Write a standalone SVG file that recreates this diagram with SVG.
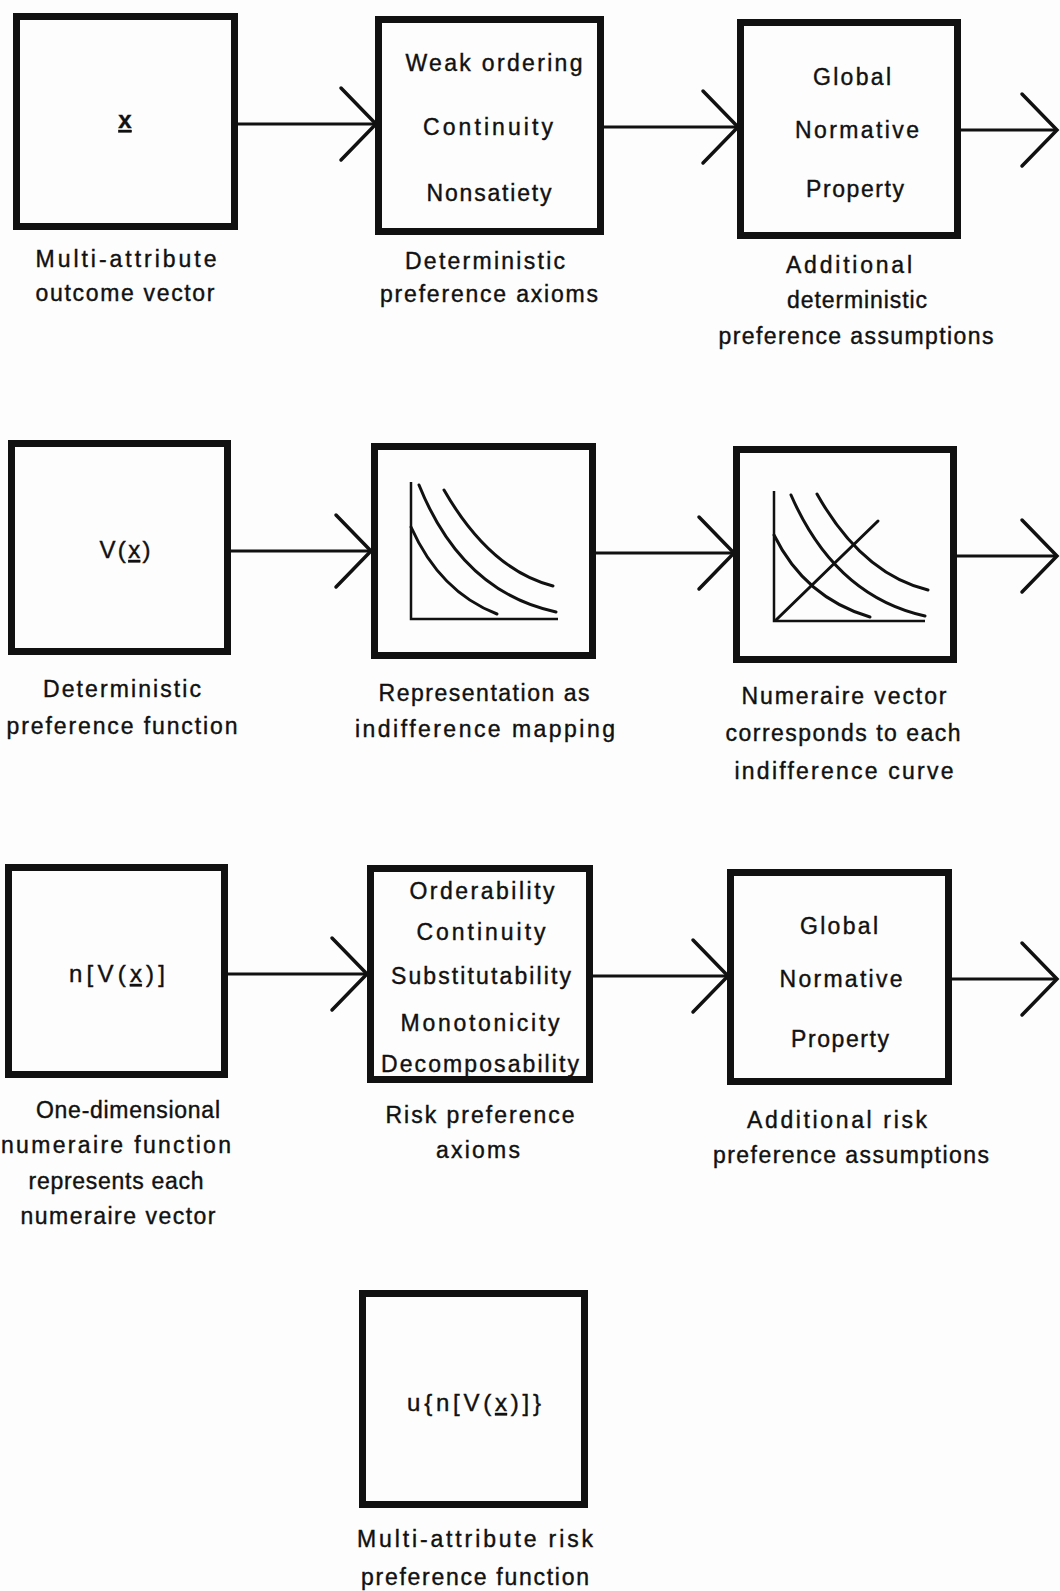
<svg xmlns="http://www.w3.org/2000/svg" width="1060" height="1591" viewBox="0 0 1060 1591">
  <style>
    .box { fill: none; stroke: #111; stroke-width: 7; }
    .wire { fill: none; stroke: #111; stroke-width: 3; }
    .plot { fill: none; stroke: #111; stroke-width: 3; stroke-linecap: round; }
    .axis { fill: none; stroke: #111; stroke-width: 2.5; }
    text { font-family: "Liberation Sans", "DejaVu Sans", sans-serif; font-size: 23px; fill: #111; stroke: #111; stroke-width: 0.4; text-anchor: middle; }
    .sym { font-size: 24px; }
  </style>
  <defs>
    <marker id="chevron" markerUnits="userSpaceOnUse" markerWidth="44" markerHeight="84" viewBox="-40 -40 44 80" refX="0" refY="0" orient="auto">
      <path d="M-35,-36 L0,0 L-35,36" fill="none" stroke="#111" stroke-width="3.5" stroke-linecap="round" stroke-linejoin="miter"/>
    </marker>
  </defs>
  <rect width="1060" height="1591" fill="#fdfdfd"/>

  <!-- connectors -->
  <g id="connectors">
    <line class="wire" x1="238" y1="124" x2="376" y2="124" marker-end="url(#chevron)"/>
    <line class="wire" x1="604" y1="127" x2="738" y2="127" marker-end="url(#chevron)"/>
    <line class="wire" x1="961" y1="130" x2="1057" y2="130" marker-end="url(#chevron)"/>
    <line class="wire" x1="231" y1="551" x2="371" y2="551" marker-end="url(#chevron)"/>
    <line class="wire" x1="596" y1="553" x2="734" y2="553" marker-end="url(#chevron)"/>
    <line class="wire" x1="957" y1="556" x2="1057" y2="556" marker-end="url(#chevron)"/>
    <line class="wire" x1="228" y1="974" x2="367" y2="974" marker-end="url(#chevron)"/>
    <line class="wire" x1="593" y1="976" x2="728" y2="976" marker-end="url(#chevron)"/>
    <line class="wire" x1="952" y1="979" x2="1057" y2="979" marker-end="url(#chevron)"/>
  </g>

  <!-- row 1 -->
  <g id="outcome-vector">
    <rect class="box" x="16.5" y="16.5" width="218" height="210"/>
    <text class="sym" x="125" y="128" font-weight="bold" text-decoration="underline">x</text>
    <text x="126" y="267" textLength="181" lengthAdjust="spacing">Multi-attribute</text>
    <text x="125" y="301" textLength="179" lengthAdjust="spacing">outcome vector</text>
  </g>
  <g id="deterministic-axioms">
    <rect class="box" x="378.5" y="19.5" width="222" height="212"/>
    <text x="494" y="71" textLength="177" lengthAdjust="spacing">Weak ordering</text>
    <text x="488" y="135" textLength="130" lengthAdjust="spacing">Continuity</text>
    <text x="489" y="201" textLength="125" lengthAdjust="spacing">Nonsatiety</text>
    <text x="485" y="269" textLength="160" lengthAdjust="spacing">Deterministic</text>
    <text x="489" y="302" textLength="218" lengthAdjust="spacing">preference axioms</text>
  </g>
  <g id="deterministic-assumptions">
    <rect class="box" x="740.5" y="22.5" width="217" height="213"/>
    <text x="852" y="85" textLength="78" lengthAdjust="spacing">Global</text>
    <text x="857" y="138" textLength="124" lengthAdjust="spacing">Normative</text>
    <text x="855" y="197" textLength="98" lengthAdjust="spacing">Property</text>
    <text x="849" y="273" textLength="126" lengthAdjust="spacing">Additional</text>
    <text x="857" y="308" textLength="140" lengthAdjust="spacing">deterministic</text>
    <text x="856" y="344" textLength="275" lengthAdjust="spacing">preference assumptions</text>
  </g>

  <!-- row 2 -->
  <g id="preference-function">
    <rect class="box" x="11.5" y="443.5" width="216" height="208"/>
    <text class="sym" x="125" y="558" textLength="51" lengthAdjust="spacing">V(<tspan text-decoration="underline">x</tspan>)</text>
    <text x="122" y="697" textLength="158" lengthAdjust="spacing">Deterministic</text>
    <text x="122" y="734" textLength="231" lengthAdjust="spacing">preference function</text>
  </g>
  <g id="indifference-mapping">
    <rect class="box" x="374.5" y="446.5" width="218" height="209"/>
    <path class="axis" d="M411,482 L411,619 L558,619"/>
    <path class="plot" d="M411,527 Q440,592 497,614"/>
    <path class="plot" d="M419,485 Q462,592 556,612"/>
    <path class="plot" d="M444,490 Q490,570 553,586"/>
    <text x="484" y="701" textLength="211" lengthAdjust="spacing">Representation as</text>
    <text x="485" y="737" textLength="260" lengthAdjust="spacing">indifference mapping</text>
  </g>
  <g id="numeraire-vector">
    <rect class="box" x="736.5" y="449.5" width="217" height="210"/>
    <path class="axis" d="M774,491 L774,621 L925,621"/>
    <path class="plot" d="M774,535 Q805,598 870,617"/>
    <path class="plot" d="M791,495 Q835,596 925,616"/>
    <path class="plot" d="M817,494 Q862,574 928,590"/>
    <line class="plot" x1="776" y1="620" x2="878" y2="521"/>
    <text x="844" y="704" textLength="205" lengthAdjust="spacing">Numeraire vector</text>
    <text x="843" y="741" textLength="235" lengthAdjust="spacing">corresponds to each</text>
    <text x="844" y="779" textLength="219" lengthAdjust="spacing">indifference curve</text>
  </g>

  <!-- row 3 -->
  <g id="numeraire-function">
    <rect class="box" x="8.5" y="867.5" width="216" height="207"/>
    <text class="sym" x="117" y="982" textLength="96" lengthAdjust="spacing">n[V(<tspan text-decoration="underline">x</tspan>)]</text>
    <text x="128" y="1118" textLength="184" lengthAdjust="spacing">One-dimensional</text>
    <text x="116" y="1153" textLength="230" lengthAdjust="spacing">numeraire function</text>
    <text x="116" y="1189" textLength="175" lengthAdjust="spacing">represents each</text>
    <text x="118" y="1224" textLength="195" lengthAdjust="spacing">numeraire vector</text>
  </g>
  <g id="risk-axioms">
    <rect class="box" x="370.5" y="868.5" width="219" height="211"/>
    <text x="482" y="899" textLength="145" lengthAdjust="spacing">Orderability</text>
    <text x="481" y="940" textLength="129" lengthAdjust="spacing">Continuity</text>
    <text x="481" y="984" textLength="180" lengthAdjust="spacing">Substitutability</text>
    <text x="480" y="1031" textLength="159" lengthAdjust="spacing">Monotonicity</text>
    <text x="480" y="1072" textLength="198" lengthAdjust="spacing">Decomposability</text>
    <text x="480" y="1123" textLength="189" lengthAdjust="spacing">Risk preference</text>
    <text x="478" y="1158" textLength="84" lengthAdjust="spacing">axioms</text>
  </g>
  <g id="risk-assumptions">
    <rect class="box" x="730.5" y="872.5" width="218" height="209"/>
    <text x="839" y="934" textLength="78" lengthAdjust="spacing">Global</text>
    <text x="841" y="987" textLength="123" lengthAdjust="spacing">Normative</text>
    <text x="840" y="1047" textLength="98" lengthAdjust="spacing">Property</text>
    <text x="837" y="1128" textLength="180" lengthAdjust="spacing">Additional risk</text>
    <text x="851" y="1163" textLength="276" lengthAdjust="spacing">preference assumptions</text>
  </g>

  <!-- row 4 -->
  <g id="risk-preference-function">
    <rect class="box" x="362.5" y="1293.5" width="222" height="211"/>
    <text class="sym" x="474" y="1411" textLength="134" lengthAdjust="spacing">u{n[V(<tspan text-decoration="underline">x</tspan>)]}</text>
    <text x="475" y="1547" textLength="236" lengthAdjust="spacing">Multi-attribute risk</text>
    <text x="475" y="1585" textLength="228" lengthAdjust="spacing">preference function</text>
  </g>
</svg>
